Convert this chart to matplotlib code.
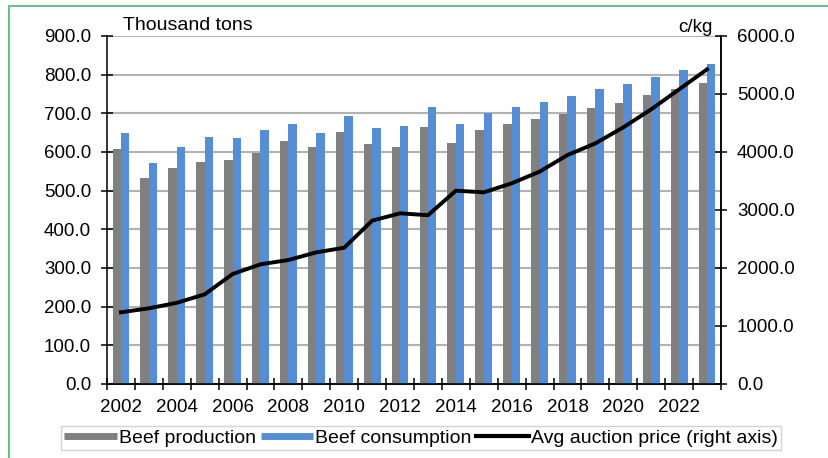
import matplotlib.pyplot as plt
from matplotlib.lines import Line2D
from matplotlib.ticker import FormatStrFormatter
import numpy as np

plt.rcParams['font.family'] = ['Liberation Sans', 'DejaVu Sans']

years = list(range(2002, 2024))
production = [607, 534, 559, 575, 579, 598, 628, 612, 652, 620, 612,
              664, 624, 657, 672, 685, 697, 713, 726, 747, 762, 779]
consumption = [648, 571, 612, 640, 636, 656, 672, 648, 692, 661, 668,
               717, 672, 700, 717, 730, 746, 762, 775, 794, 811, 827]
auction_price = [1236, 1305, 1400, 1546, 1896, 2063, 2138, 2270, 2350, 2816, 2943,
                 2910, 3333, 3305, 3460, 3661, 3948, 4149, 4425, 4736, 5080, 5425]

grey = '#808080'
blue = '#558ed5'
fs = 13.5

fig = plt.figure(figsize=(8.29, 4.58), dpi=100)
ax = fig.add_axes([107/829, 1 - 384/458, 614/829, 348/458])
ax2 = ax.twinx()

x = np.arange(len(years))
w = 0.3
ax.bar(x - w/2, production, width=w, color=grey, zorder=3)
ax.bar(x + w/2, consumption, width=w, color=blue, zorder=3)
ax2.plot(x, auction_price, color='black', lw=2.8, zorder=4)

ax.set_xlim(-0.5, len(years) - 0.5)
ax.set_ylim(0, 900)
ax.set_yticks(np.arange(0, 901, 100))
ax.yaxis.set_major_formatter(FormatStrFormatter('%.1f'))
ax2.set_ylim(0, 6000)
ax2.set_yticks(np.arange(0, 6001, 1000))
ax2.yaxis.set_major_formatter(FormatStrFormatter('%.1f'))

ax.yaxis.grid(True, color='#b3b3b3', lw=1.5, zorder=0)
ax.set_axisbelow(True)

# year labels on every other category, ticks at category boundaries
ax.set_xticks(x[::2])
ax.set_xticklabels([str(y) for y in years[::2]])
ax.set_xticks(np.arange(-0.5, len(years), 1), minor=True)
ax.tick_params(axis='x', which='major', length=0, pad=11, labelsize=fs)
ax.tick_params(axis='x', which='minor', direction='inout', length=8, width=1.1)
ax.tick_params(axis='y', direction='inout', length=9, width=1.1, pad=7, labelsize=fs)
ax2.tick_params(axis='y', direction='inout', length=9, width=1.1, pad=7, labelsize=fs)

for a in (ax, ax2):
    a.spines['top'].set_visible(False)
    for s in ('left', 'right', 'bottom'):
        a.spines[s].set_linewidth(1.1)
ax2.spines['left'].set_visible(False)

fig.text(123/829, 1 - 26/458, 'Thousand tons', fontsize=14, va='center', ha='left')
fig.text(713/829, 1 - 27/458, 'c/kg', fontsize=fs, va='center', ha='right')

handles = [Line2D([], [], color=grey, lw=5, solid_capstyle='butt'),
           Line2D([], [], color=blue, lw=5, solid_capstyle='butt'),
           Line2D([], [], color='black', lw=3)]
labels = ['Beef production', 'Beef consumption', 'Avg auction price (right axis)']
leg = fig.legend(handles, labels, loc='center', bbox_to_anchor=(421/829, 1 - 438/458),
                 ncol=3, fontsize=14, frameon=True, fancybox=False, handlelength=2.7,
                 handletextpad=0.1, columnspacing=0.25, borderpad=0.15,
                 borderaxespad=0)
leg.get_frame().set_edgecolor('#c8c8c8')
leg.get_frame().set_linewidth(1.0)

# green frame of the original panel
fig.add_artist(Line2D([9/829, 1], [1 - 6/458, 1 - 6/458], color='#6dbf8c', lw=1.5,
                      transform=fig.transFigure))
fig.add_artist(Line2D([9/829, 9/829], [0, 1 - 6/458], color='#6dbf8c', lw=1.5,
                      transform=fig.transFigure))

fig.savefig('out.png', dpi=100)
